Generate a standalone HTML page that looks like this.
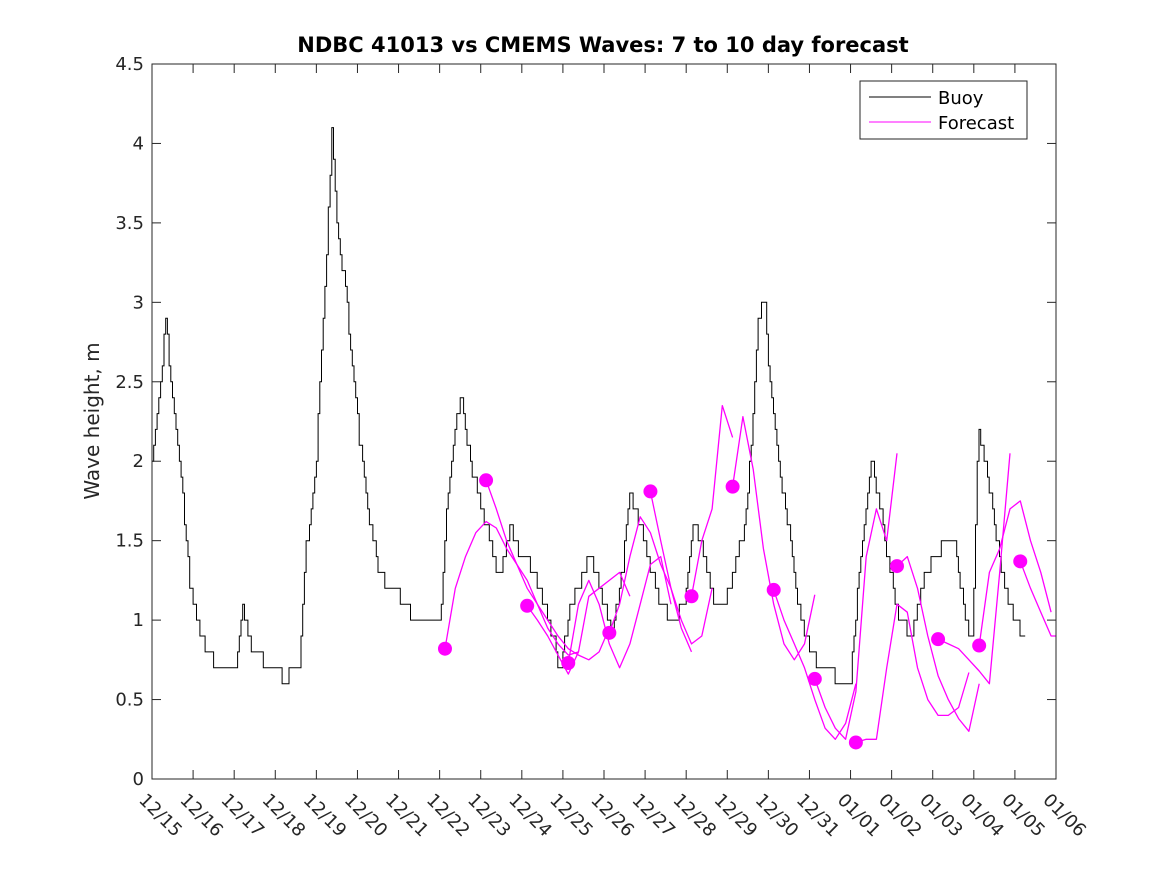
<!DOCTYPE html>
<html><head><meta charset="utf-8"><style>
body{margin:0;background:#fff;}
svg{display:block;font-family:"DejaVu Sans","Liberation Sans",sans-serif;}
</style></head><body>
<svg id="chart" width="1167" height="875" viewBox="0 0 1167 875">
<rect x="0" y="0" width="1167" height="875" fill="#fff"/>
<text x="603" y="52" text-anchor="middle" font-size="21" font-weight="bold">NDBC 41013 vs CMEMS Waves: 7 to 10 day forecast</text>
<text transform="translate(99,421) rotate(-90)" text-anchor="middle" font-size="20" fill="#262626">Wave height, m</text>
<g id="plot"></g>
</svg>
<script>
const xLabels=["12/15","12/16","12/17","12/18","12/19","12/20","12/21","12/22","12/23","12/24","12/25","12/26","12/27","12/28","12/29","12/30","12/31","01/01","01/02","01/03","01/04","01/05","01/06"];
const yTicks=[0,0.5,1,1.5,2,2.5,3,3.5,4,4.5];
const buoyDays=[0,0.2,0.34,0.49,0.68,0.92,1.1,1.34,1.65,2.0,2.19,2.38,2.68,3.0,3.24,3.6,3.72,3.97,4.09,4.28,4.38,4.53,4.7,4.87,5.06,5.3,5.54,5.79,6.03,6.4,6.76,7.0,7.17,7.37,7.52,7.74,7.98,8.23,8.47,8.71,8.95,9.2,9.56,9.8,9.93,10.17,10.42,10.66,10.9,11.2,11.44,11.63,11.88,12.12,12.36,12.65,12.97,13.17,13.46,13.7,13.95,14.19,14.43,14.6,14.75,14.89,15.04,15.23,15.48,15.65,15.89,16.14,16.5,16.74,16.99,17.18,17.35,17.52,17.72,17.96,18.2,18.5,18.81,19.06,19.3,19.54,19.79,19.96,20.1,20.27,20.51,20.76,21.0,21.25];
const buoyVals=[2.0,2.5,2.9,2.4,2.0,1.2,1.0,0.8,0.7,0.65,1.1,0.85,0.75,0.7,0.62,0.75,1.4,1.9,2.5,3.5,4.1,3.4,3.1,2.6,2.1,1.6,1.3,1.2,1.15,1.0,0.95,0.95,1.7,2.2,2.45,2.0,1.75,1.5,1.25,1.6,1.4,1.35,1.1,0.85,0.65,1.1,1.25,1.4,1.2,0.9,1.3,1.8,1.6,1.35,1.1,1.0,1.1,1.65,1.4,1.05,1.1,1.35,1.6,2.2,2.9,3.05,2.5,2.0,1.6,1.2,0.9,0.75,0.7,0.6,0.6,1.2,1.6,2.0,1.7,1.3,1.0,0.9,1.3,1.4,1.5,1.5,1.0,0.85,2.2,2.0,1.6,1.2,1.0,0.9];
const fcStartDays=[7.13,8.13,9.13,10.13,11.13,12.13,13.13,14.13,15.13,16.13,17.13,18.13,19.13,20.13,21.13];
const fcStartVals=[0.82,1.88,1.09,0.73,0.92,1.81,1.15,1.84,1.19,0.63,0.23,1.34,0.88,0.84,1.37];
const fcStepDays=0.25;
const fc0=[0.82,1.2,1.4,1.55,1.62,1.58,1.45,1.35,1.25,1.1,0.95,0.85,0.78,0.8];
const fc1=[1.88,1.7,1.5,1.35,1.2,1.1,1.0,0.9,0.82,0.78,0.75,0.8,0.95];
const fc2=[1.09,1.0,0.9,0.78,0.66,0.8,1.15,1.2,1.25,1.3,1.15];
const fc3=[0.73,1.1,1.25,1.1,0.85,0.7,0.85,1.1,1.35,1.4,1.1];
const fc4=[0.92,1.1,1.4,1.65,1.55,1.35,1.2,1.0,0.85,0.9,1.2];
const fc5=[1.81,1.5,1.2,0.95,0.8];
const fc6=[1.15,1.5,1.7,2.35,2.15];
const fc7=[1.84,2.28,1.95,1.45,1.1,0.85,0.75,0.85,1.16];
const fc8=[1.19,1.0,0.85,0.7,0.5,0.32,0.25,0.35,0.6];
const fc9=[0.63,0.45,0.32,0.25,0.55,1.4,1.7,1.5,2.05];
const fc10=[0.23,0.25,0.25,0.7,1.1,1.05,0.7,0.5,0.4,0.4,0.45,0.67];
const fc11=[1.34,1.4,1.2,0.9,0.65,0.5,0.38,0.3,0.6];
const fc12=[0.88,0.85,0.82,0.75,0.68,0.6,1.3,2.05];
const fc13=[0.84,1.3,1.45,1.7,1.75,1.5,1.3,1.05];
const fc14=[1.37,1.2,1.05,0.9,0.9];
const forecasts=[fc0,fc1,fc2,fc3,fc4,fc5,fc6,fc7,fc8,fc9,fc10,fc11,fc12,fc13,fc14];

const L=152,R=1056,T=64,B=779,NS="http://www.w3.org/2000/svg";
const xS=d=>L+d*(R-L)/(xLabels.length-1);
const yS=v=>B-v*(B-T)/4.5;
const g=document.getElementById("plot");
function mk(tag,attrs,parent){const e=document.createElementNS(NS,tag);for(const k in attrs)e.setAttribute(k,attrs[k]);(parent||g).appendChild(e);return e;}

const clip=mk("clipPath",{id:"pc"});mk("rect",{x:L,y:T,width:R-L,height:B-T},clip);

// buoy: hourly sampling with 0.1 m quantization, drawn as steps (instrument resolution look)
function interp(d){
  if(d<=buoyDays[0])return buoyVals[0];
  for(let i=1;i<buoyDays.length;i++){if(d<=buoyDays[i]){const f=(d-buoyDays[i-1])/(buoyDays[i]-buoyDays[i-1]);return buoyVals[i-1]+f*(buoyVals[i]-buoyVals[i-1]);}}
  return buoyVals[buoyVals.length-1];
}
let bp="",prevY=null;
const dEnd=buoyDays[buoyDays.length-1];
for(let d=0;d<=dEnd+1e-9;d+=1/24){
  const v=Math.round(interp(d)*10)/10;
  const x=xS(d).toFixed(1),y=yS(v).toFixed(1);
  if(prevY===null)bp+="M"+x+","+y;else bp+="L"+x+","+prevY+"L"+x+","+y;
  prevY=y;
}
const buoy=mk("path",{d:bp,fill:"none",stroke:"#000","stroke-width":1,"clip-path":"url(#pc)"});



forecasts.forEach((arr,k)=>{
  let p="";arr.forEach((v,i)=>{p+=(i?"L":"M")+xS(fcStartDays[k]+i*fcStepDays).toFixed(1)+","+yS(v).toFixed(1);});
  const e=mk("path",{d:p,fill:"none",stroke:"#ff00ff","stroke-width":1.3,"stroke-linejoin":"round","clip-path":"url(#pc)"});
  
  
});
fcStartDays.forEach((d,k)=>{
  const c=mk("circle",{cx:xS(d),cy:yS(fcStartVals[k]),r:7,fill:"#ff00ff"});
  
  
});

const box=mk("rect",{x:L,y:T,width:R-L,height:B-T,fill:"none",stroke:"#262626","stroke-width":1});



yTicks.forEach(v=>{
  const y=yS(v);
  mk("line",{x1:L,x2:L+9,y1:y,y2:y,stroke:"#262626"});
  mk("line",{x1:R,x2:R-9,y1:y,y2:y,stroke:"#262626"});
  const t=mk("text",{x:L-8,y:y+6,"text-anchor":"end","font-size":18,fill:"#262626"});
  t.textContent=String(v);
  
  
});
xLabels.forEach((lab,i)=>{
  const x=xS(i);
  mk("line",{x1:x,x2:x,y1:B,y2:B-9,stroke:"#262626"});
  mk("line",{x1:x,x2:x,y1:T,y2:T+9,stroke:"#262626"});
  const t=mk("text",{transform:`translate(${x-14},${B+22}) rotate(45)`,"font-size":18,fill:"#262626"});
  t.textContent=lab;
  
  
});

const lg=mk("g",{});


mk("rect",{x:860,y:81,width:167,height:58,fill:"#fff",stroke:"#262626"},lg);
mk("line",{x1:869,x2:931,y1:97,y2:97,stroke:"#000"},lg);
mk("line",{x1:869,x2:931,y1:122,y2:122,stroke:"#ff00ff"},lg);
const t1=mk("text",{x:938,y:104,"font-size":18,fill:"#000"},lg);t1.textContent="Buoy";


const t2=mk("text",{x:938,y:129,"font-size":18,fill:"#000"},lg);t2.textContent="Forecast";


</script>
</body></html>
